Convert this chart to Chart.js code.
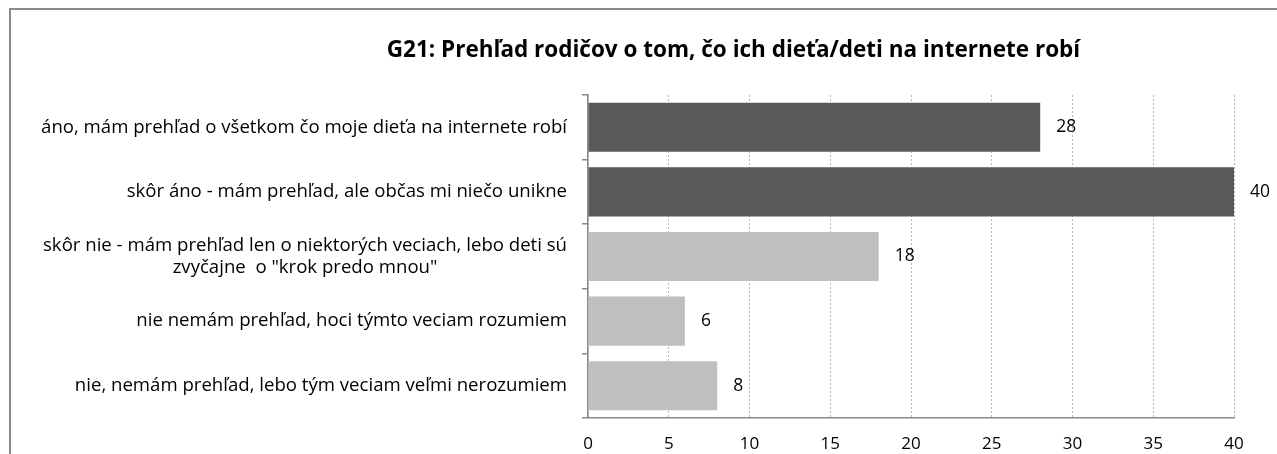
<!DOCTYPE html>
<html>
<head>
<meta charset="utf-8">
<script src="https://cdn.jsdelivr.net/npm/chart.js@4/dist/chart.umd.min.js"></script>
<style>
  html, body { margin: 0; padding: 0; background: #fff; overflow: hidden; }
  #frame { position: absolute; left: 9px; top: 8px; width: 1400px; height: 600px;
           border: 2px solid #8a8a8a; box-sizing: border-box; }
  #wrap { position: absolute; left: 0; top: 0; width: 1277px; height: 454px; }
</style>
</head>
<body>
<div id="frame"></div>
<div id="wrap"><canvas id="chart"></canvas></div>
<script>
// data
const chartTitle = 'G21: Prehľad rodičov o tom, čo ich dieťa/deti na internete robí';
const categories = [
    ['áno, mám prehľad o všetkom čo moje dieťa na internete robí'],
    ['skôr áno - mám prehľad, ale občas mi niečo unikne'],
    ['skôr nie - mám prehľad len o niektorých veciach, lebo deti sú', 'zvyčajne  o "krok predo mnou"'],
    ['nie nemám prehľad, hoci týmto veciam rozumiem'],
    ['nie, nemám prehľad, lebo tým veciam veľmi nerozumiem']
];
const values = [28, 40, 18, 6, 8];
const barColors = ['#595959', '#595959', '#bfbfbf', '#bfbfbf', '#bfbfbf'];
const xTicks = [0, 5, 10, 15, 20, 25, 30, 35, 40];

const FONT = '"Open Sans", Lato, sans-serif';
Chart.defaults.font.family = FONT;
Chart.defaults.color = '#000';

// category labels: block right-aligned to the axis, lines centred inside the block
const categoryLabels = {
    id: 'categoryLabels',
    afterDraw(chart) {
        const ctx = chart.ctx;
        const yScale = chart.scales.y;
        const right = yScale.right - 21;
        ctx.save();
        ctx.font = '18.6px ' + FONT;
        ctx.fillStyle = '#000';
        ctx.textAlign = 'center';
        ctx.textBaseline = 'middle';
        categories.forEach((lines, i) => {
            const cy = yScale.getPixelForValue(i);
            const w = Math.max(...lines.map(l => ctx.measureText(l).width));
            const cx = right - w / 2;
            const lh = 22.5;
            lines.forEach((line, j) => {
                ctx.fillText(line, cx, cy + (j - (lines.length - 1) / 2) * lh);
            });
        });
        ctx.restore();
    }
};

// value labels just right of each bar
const valueLabels = {
    id: 'valueLabels',
    afterDatasetsDraw(chart) {
        const ctx = chart.ctx;
        const meta = chart.getDatasetMeta(0);
        ctx.save();
        ctx.font = '17.5px ' + FONT;
        ctx.fillStyle = '#000';
        ctx.textAlign = 'left';
        ctx.textBaseline = 'middle';
        meta.data.forEach((bar, i) => {
            ctx.fillText(String(values[i]), bar.x + 16, bar.y);
        });
        ctx.restore();
    }
};

new Chart(document.getElementById('chart'), {
    type: 'bar',
    data: {
        labels: categories.map(l => l.join(' ')),
        datasets: [{
            data: values,
            backgroundColor: barColors,
            borderWidth: 0,
            categoryPercentage: 0.76,
            barPercentage: 1
        }]
    },
    options: {
        indexAxis: 'y',
        responsive: true,
        maintainAspectRatio: false,
        animation: false,
        layout: { padding: { left: 233, right: 43, top: 0, bottom: 0 } },
        plugins: {
            legend: { display: false },
            tooltip: { enabled: false },
            title: {
                display: true,
                text: chartTitle,
                color: '#000',
                font: { size: 22.5, weight: 'bold' },
                padding: { top: 37.5, bottom: 30.5 }
            }
        },
        scales: {
            x: {
                min: 0,
                max: 40,
                afterBuildTicks: (scale) => { scale.ticks = xTicks.map(v => ({ value: v })); },
                afterFit: (scale) => { scale.height = 36; },
                ticks: { font: { size: 17 }, color: '#000', padding: 16 },
                grid: { color: '#b8b8b8', lineWidth: 1, drawTicks: false },
                border: { display: true, color: '#898989', width: 1.5, dash: [2, 2] }
            },
            y: {
                afterFit: (scale) => { scale.width = 355; },
                ticks: { display: false },
                grid: { drawOnChartArea: false, drawTicks: true, tickLength: 6, color: '#898989', lineWidth: 1.5 },
                border: { display: true, color: '#898989', width: 1.5 }
            }
        }
    },
    plugins: [categoryLabels, valueLabels]
});
</script>
</body>
</html>
